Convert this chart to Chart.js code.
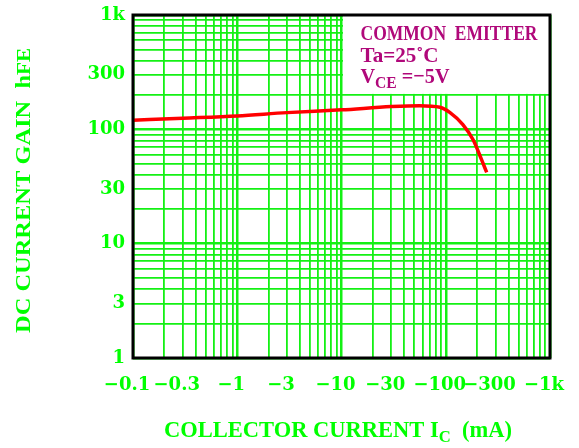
<!DOCTYPE html>
<html>
<head>
<meta charset="utf-8">
<script src="https://cdn.jsdelivr.net/npm/chart.js@4/dist/chart.umd.min.js"></script>
<style>
  html, body { margin: 0; padding: 0; background: #ffffff; }
  #wrap { width: 579px; height: 448px; position: relative; }
</style>
</head>
<body>
<div id="wrap"><canvas id="c"></canvas></div>
<script>
// ---- data ----
const currentMA = [0.1, 0.3, 1, 3, 10, 30, 56, 88, 110, 146, 183, 221, 247];
const hFE       = [120, 125, 131, 140, 148, 158, 161, 156, 140, 110, 81, 54, 42];

const xTickValues = [0.1, 0.3, 1, 3, 10, 30, 100, 300, 1000];
const xTickLabels = ['\u22120.1', '\u22120.3', '\u22121', '\u22123', '\u221210', '\u221230', '\u2212100', '\u2212300', '\u22121k'];
const yTickValues = [1, 3, 10, 30, 100, 300, 1000];
const yTickLabels = ['1', '3', '10', '30', '100', '300', '1k'];

const legendLines = ['COMMON  EMITTER', 'Ta=25\u02DAC', ['V', 'CE', '=\u22125V']];
const xTitle = ['COLLECTOR CURRENT I', 'C', '  (mA)'];
const yTitle = ['DC CURRENT GAIN  h', 'FE'];

const GREEN = '#14f014';
const TEXT_GREEN = '#00ff00';
const MAGENTA = '#b0087a';

function gridValues(e0, e1) {
  const out = [];
  for (let e = e0; e < e1; e++) {
    for (let m = 1; m <= 9; m++) out.push(parseFloat((m * Math.pow(10, e)).toPrecision(6)));
  }
  out.push(Math.pow(10, e1));
  return out;
}
function isDecade(v) {
  const l = Math.log10(v);
  return Math.abs(l - Math.round(l)) < 1e-6;
}
function labelFor(v, vals, labels) {
  for (let i = 0; i < vals.length; i++) {
    if (Math.abs(vals[i] - v) / vals[i] < 1e-6) return labels[i];
  }
  return '';
}

function drawRich(ctx, segs, x, y, targetW) {
  let total = 0;
  segs.forEach(s => { ctx.font = s.font; s.w = ctx.measureText(s.t).width; total += s.w; });
  const sc = targetW ? targetW / total : 1;
  ctx.save();
  ctx.translate(x, y);
  ctx.scale(sc, 1);
  let cx = 0;
  segs.forEach(s => {
    ctx.font = s.font;
    ctx.fillText(s.t, cx, s.dy || 0);
    cx += s.w;
  });
  ctx.restore();
}

const overlay = {
  id: 'overlay',
  beforeDatasetsDraw(chart) {
    const { ctx, chartArea } = chart;
    const xs = chart.scales.x, ys = chart.scales.y;
    const left = xs.getPixelForValue(10) + 1.5;
    const bottom = ys.getPixelForValue(200) - 1;
    ctx.save();
    ctx.fillStyle = '#ffffff';
    ctx.fillRect(left, chartArea.top, chartArea.right - left, bottom - chartArea.top);
    ctx.fillStyle = MAGENTA;
    ctx.textBaseline = 'alphabetic';
    ctx.textAlign = 'left';
    const f = 'bold 22px "Liberation Serif"';
    const fs = 'bold 17px "Liberation Serif"';
    drawRich(ctx, [{ t: legendLines[0], font: f }], left + 17.5, chartArea.top + 25, 177);
    drawRich(ctx, [{ t: legendLines[1], font: f }], left + 17.5, chartArea.top + 46.7, 78);
    const l3 = legendLines[2];
    drawRich(ctx, [{ t: l3[0], font: f }, { t: l3[1], font: fs, dy: 5 }, { t: ' ' + l3[2], font: f }],
      left + 17.5, chartArea.top + 68.3, 89);
    ctx.restore();
  },
  afterDatasetsDraw(chart) {
    const { ctx, chartArea } = chart;
    ctx.save();
    ctx.strokeStyle = '#000000';
    ctx.lineWidth = 3;
    ctx.strokeRect(chartArea.left, chartArea.top, chartArea.right - chartArea.left, chartArea.bottom - chartArea.top);
    ctx.restore();
  },
  afterDraw(chart) {
    const { ctx } = chart;
    ctx.save();
    ctx.fillStyle = TEXT_GREEN;
    ctx.textBaseline = 'alphabetic';
    ctx.textAlign = 'left';
    const f = 'bold 23px "Liberation Serif"';
    const fs = 'bold 17px "Liberation Serif"';
    drawRich(ctx, [{ t: xTitle[0], font: f }, { t: xTitle[1], font: fs, dy: 5 }, { t: xTitle[2], font: f }], 164, 437, 348);
    ctx.translate(30, 333);
    ctx.rotate(-Math.PI / 2);
    drawRich(ctx, [{ t: yTitle[0], font: 'bold 22px "Liberation Serif"' }, { t: yTitle[1], font: 'bold 19px "Liberation Serif"' }], 0, 0, 285);
    ctx.restore();
  }
};

const points = currentMA.map((x, i) => ({ x: x, y: hFE[i] }));

new Chart(document.getElementById('c'), {
  type: 'line',
  data: {
    datasets: [{
      data: points,
      borderColor: '#ff0000',
      borderWidth: 3.5,
      pointRadius: 0,
      fill: false,
      cubicInterpolationMode: 'monotone',
      tension: 0.4
    }]
  },
  options: {
    responsive: true,
    maintainAspectRatio: false,
    animation: false,
    devicePixelRatio: 1,
    layout: { padding: { top: 15, right: 29, left: 0, bottom: 0 } },
    plugins: { legend: { display: false }, tooltip: { enabled: false }, title: { display: false } },
    scales: {
      x: {
        type: 'logarithmic',
        min: 0.1,
        max: 1000,
        afterBuildTicks: (scale) => { scale.ticks = gridValues(-1, 3).map(v => ({ value: v })); },
        afterFit: (scale) => { scale.height = 90; scale.paddingLeft = 0; scale.paddingRight = 0; },
        border: { display: false },
        grid: {
          color: GREEN,
          lineWidth: (c) => (c.tick && isDecade(c.tick.value) ? 2.5 : 1.8),
          drawTicks: false
        },
        ticks: {
          autoSkip: false,
          maxRotation: 0,
          minRotation: 0,
          padding: 17,
          labelOffset: -6,
          color: TEXT_GREEN,
          font: { family: '"DejaVu Serif"', size: 18, weight: 'bold' },
          callback: (v) => labelFor(v, xTickValues, xTickLabels)
        }
      },
      y: {
        type: 'logarithmic',
        min: 1,
        max: 1000,
        afterBuildTicks: (scale) => { scale.ticks = gridValues(0, 3).map(v => ({ value: v })); },
        afterFit: (scale) => { scale.width = 133; scale.paddingTop = 0; scale.paddingBottom = 0; },
        border: { display: false },
        grid: {
          color: GREEN,
          lineWidth: (c) => (c.tick && isDecade(c.tick.value) ? 2.5 : 1.8),
          drawTicks: false
        },
        ticks: {
          autoSkip: false,
          padding: 8,
          color: TEXT_GREEN,
          font: { family: '"DejaVu Serif"', size: 18, weight: 'bold' },
          callback: (v) => labelFor(v, yTickValues, yTickLabels)
        }
      }
    }
  },
  plugins: [overlay]
});
</script>
</body>
</html>
